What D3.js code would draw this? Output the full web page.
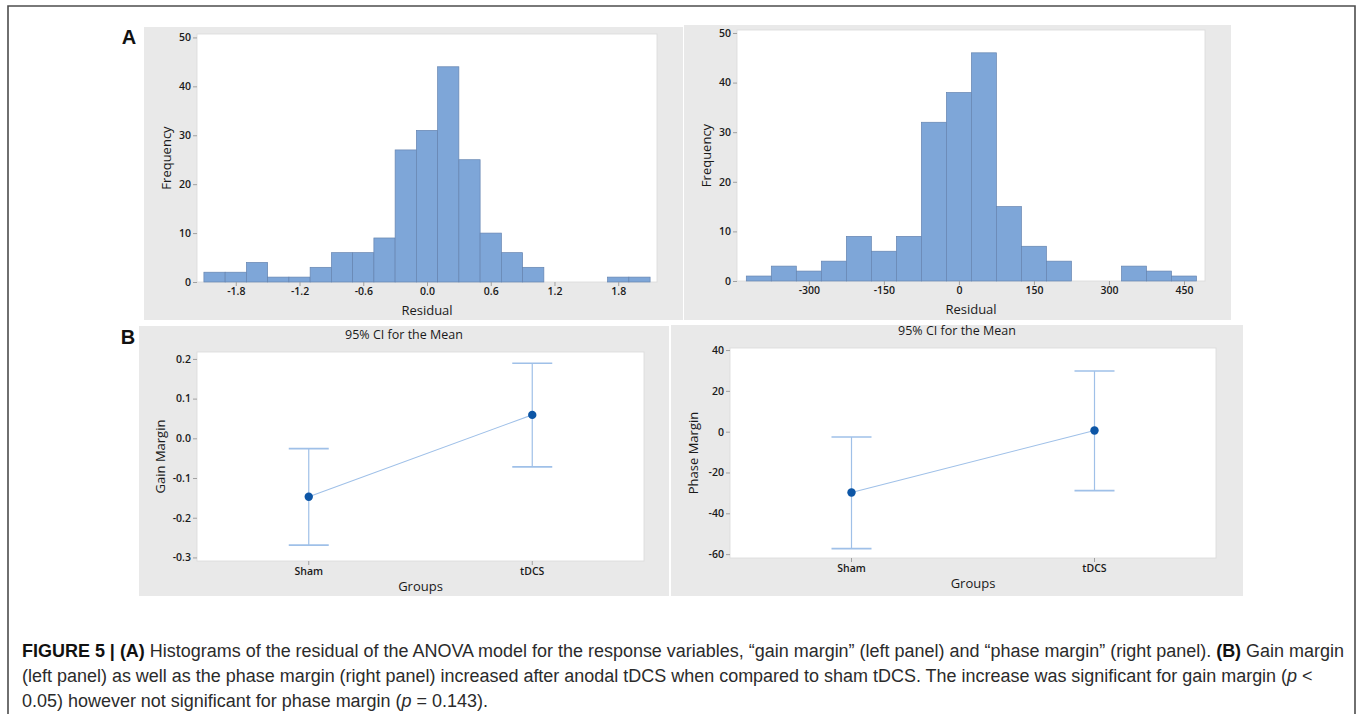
<!DOCTYPE html>
<html>
<head>
<meta charset="utf-8">
<script src="https://cdn.jsdelivr.net/npm/d3@7"></script>
<style>
  body { margin: 0; background: #fff; }
  svg { display: block; }
</style>
</head>
<body>
<div id="figure"></div>
<script>
// ---- values ----
const gainBinCenters = [-2.0, -1.8, -1.6, -1.4, -1.2, -1.0, -0.8, -0.6, -0.4, -0.2, 0.0, 0.2, 0.4, 0.6, 0.8, 1.0, 1.2, 1.4, 1.6, 1.8, 2.0];
const gainResidualCounts = [2, 2, 4, 1, 1, 3, 6, 6, 9, 27, 31, 44, 25, 10, 6, 3, 0, 0, 0, 1, 1];
const phaseBinCenters = [-400, -350, -300, -250, -200, -150, -100, -50, 0, 50, 100, 150, 200, 250, 300, 350, 400, 450];
const phaseResidualCounts = [1, 3, 2, 4, 9, 6, 9, 32, 38, 46, 15, 7, 4, 0, 0, 3, 2, 1];

const gainResidualTicks = [-1.8, -1.2, -0.6, 0, 0.6, 1.2, 1.8];
const phaseResidualTicks = [-300, -150, 0, 150, 300, 450];
const frequencyTicks = [0, 10, 20, 30, 40, 50];

const groups = ["Sham", "tDCS"];
const gainMean = [-0.147, 0.059];
const gainLower = [-0.269, -0.072];
const gainUpper = [-0.026, 0.189];
const phaseMean = [-29.8, 0.6];
const phaseLower = [-57.3, -28.9];
const phaseUpper = [-2.6, 29.7];
const gainMarginTicks = [-0.3, -0.2, -0.1, 0, 0.1, 0.2];
const phaseMarginTicks = [-60, -40, -20, 0, 20, 40];

// ---- styling ----
const chartFont = "'Open Sans', 'Noto Sans', sans-serif";
const captionFont = "'Liberation Sans', Arial, sans-serif";
const panelColor = "#e9e9e9";
const barFill = "#7ea6d8";
const barStroke = "#6584b0";
const ciColor = "#9fc0e8";
const dotColor = "#0d56a6";
const tickColor = "#a0a0a0";

const svg = d3.select("#figure")
  .append("svg")
  .attr("width", 1362)
  .attr("height", 714);

svg.append("rect").attr("width", 1362).attr("height", 714).attr("fill", "#fff");

// outer frame (open at the bottom)
svg.append("path")
  .attr("d", "M8,714 L8,6 L1355,6 L1355,714")
  .attr("fill", "none")
  .attr("stroke", "#4d4d4d")
  .attr("stroke-width", 1.6);

function styleAxis(g) {
  g.select(".domain").remove();
  g.selectAll(".tick line").attr("stroke", tickColor);
  g.selectAll(".tick text")
    .attr("font-family", chartFont)
    .attr("font-size", 10.5)
    .attr("font-weight", 600)
    .attr("fill", "#1a1a1a");
}

function drawPanel(cfg) {
  const p = cfg.panel;
  svg.append("rect")
    .attr("x", p.x).attr("y", p.y)
    .attr("width", p.w).attr("height", p.h)
    .attr("fill", panelColor);
  const a = cfg.plot;
  svg.append("rect")
    .attr("x", a.x).attr("y", a.y)
    .attr("width", a.w).attr("height", a.h)
    .attr("fill", "#fff")
    .attr("stroke", "#dadada")
    .attr("stroke-width", 0.8);
}

function axisTitle(text, x, y, rotate) {
  svg.append("text")
    .attr("transform", `translate(${x},${y})` + (rotate ? " rotate(-90)" : ""))
    .attr("text-anchor", "middle")
    .attr("dy", "0.35em")
    .attr("font-family", chartFont)
    .attr("font-size", 13)
    .attr("fill", "#1a1a1a")
    .text(text);
}

function drawHistogram(cfg) {
  drawPanel(cfg);
  const a = cfg.plot;

  const x = d3.scaleLinear().domain(cfg.xDomain).range([a.x, a.x + a.w]);
  const y = d3.scaleLinear().domain(cfg.yDomain).range([a.y + a.h, a.y]);

  const bins = cfg.centers
    .map((c, i) => ({ center: c, count: cfg.counts[i] }))
    .filter((d) => d.count > 0);

  svg.append("g")
    .selectAll("rect")
    .data(bins)
    .join("rect")
    .attr("x", (d) => x(d.center - cfg.binWidth / 2))
    .attr("y", (d) => y(d.count))
    .attr("width", (d) => x(d.center + cfg.binWidth / 2) - x(d.center - cfg.binWidth / 2))
    .attr("height", (d) => y(0) - y(d.count))
    .attr("fill", barFill)
    .attr("stroke", barStroke)
    .attr("stroke-width", 0.7);

  svg.append("g")
    .attr("transform", `translate(0,${a.y + a.h})`)
    .call(d3.axisBottom(x).tickValues(cfg.xTicks).tickFormat(cfg.xFormat).tickSize(4).tickPadding(2))
    .call(styleAxis);

  svg.append("g")
    .attr("transform", `translate(${a.x},0)`)
    .call(d3.axisLeft(y).tickValues(frequencyTicks).tickSize(4).tickPadding(2))
    .call(styleAxis);

  axisTitle("Residual", a.x + a.w / 2, a.y + a.h + 28, false);
  axisTitle("Frequency", a.x - 31, a.y + a.h / 2, true);
}

function drawIntervalPlot(cfg) {
  drawPanel(cfg);
  const a = cfg.plot;
  const p = cfg.panel;

  const x = d3.scaleBand().domain(groups).range([a.x, a.x + a.w]);
  const cx = (g) => x(g) + x.bandwidth() / 2;
  const y = d3.scaleLinear().domain(cfg.yDomain).range([a.y + a.h, a.y]);

  const rows = groups.map((g, i) => ({
    group: g, mean: cfg.mean[i], lower: cfg.lower[i], upper: cfg.upper[i]
  }));

  // mean connect line
  svg.append("path")
    .datum(rows)
    .attr("d", d3.line().x((d) => cx(d.group)).y((d) => y(d.mean)))
    .attr("fill", "none")
    .attr("stroke", ciColor)
    .attr("stroke-width", 1.1);

  const bars = svg.append("g")
    .attr("stroke", ciColor)
    .attr("stroke-width", 1.2);

  bars.selectAll("line.whisker")
    .data(rows)
    .join("line")
    .attr("class", "whisker")
    .attr("x1", (d) => cx(d.group)).attr("x2", (d) => cx(d.group))
    .attr("y1", (d) => y(d.lower)).attr("y2", (d) => y(d.upper));

  ["lower", "upper"].forEach((k) => {
    bars.selectAll("line.cap-" + k)
      .data(rows)
      .join("line")
      .attr("class", "cap-" + k)
      .attr("x1", (d) => cx(d.group) - 20).attr("x2", (d) => cx(d.group) + 20)
      .attr("y1", (d) => y(d[k])).attr("y2", (d) => y(d[k]))
      .attr("stroke-width", 1.6);
  });

  svg.append("g")
    .selectAll("circle")
    .data(rows)
    .join("circle")
    .attr("cx", (d) => cx(d.group))
    .attr("cy", (d) => y(d.mean))
    .attr("r", 4.2)
    .attr("fill", dotColor);

  svg.append("g")
    .attr("transform", `translate(0,${a.y + a.h})`)
    .call(d3.axisBottom(x).tickSize(4).tickPadding(3))
    .call(styleAxis);

  svg.append("g")
    .attr("transform", `translate(${a.x},0)`)
    .call(d3.axisLeft(y).tickValues(cfg.yTicks).tickFormat(cfg.yFormat).tickSize(4).tickPadding(2))
    .call(styleAxis);

  // title centred on the panel
  svg.append("text")
    .attr("x", p.x + p.w / 2)
    .attr("y", a.y - 17)
    .attr("text-anchor", "middle")
    .attr("dy", "0.35em")
    .attr("font-family", chartFont)
    .attr("font-size", 12.5)
    .attr("fill", "#1a1a1a")
    .text("95% CI for the Mean");

  axisTitle("Groups", a.x + a.w / 2, a.y + a.h + 25, false);
  axisTitle(cfg.yLabel, a.x - 37, a.y + a.h / 2, true);
}

const oneDecimal = (d) => d.toFixed(1);

drawHistogram({
  panel: { x: 144, y: 27, w: 539, h: 293 },
  plot: { x: 197, y: 34, w: 460, h: 248 },
  centers: gainBinCenters,
  counts: gainResidualCounts,
  binWidth: 0.2,
  xDomain: [-2.165, 2.165],
  yDomain: [0, 50.7],
  xTicks: gainResidualTicks,
  xFormat: oneDecimal
});

drawHistogram({
  panel: { x: 684, y: 25, w: 547, h: 295 },
  plot: { x: 737, y: 30, w: 468, h: 251 },
  centers: phaseBinCenters,
  counts: phaseResidualCounts,
  binWidth: 50,
  xDomain: [-443.6, 492],
  yDomain: [0, 50.6],
  xTicks: phaseResidualTicks,
  xFormat: (d) => String(d)
});

drawIntervalPlot({
  panel: { x: 139, y: 326, w: 530, h: 270 },
  plot: { x: 197, y: 352, w: 447, h: 209 },
  mean: gainMean, lower: gainLower, upper: gainUpper,
  yDomain: [-0.309, 0.2174],
  yTicks: gainMarginTicks,
  yFormat: oneDecimal,
  yLabel: "Gain Margin"
});

drawIntervalPlot({
  panel: { x: 671, y: 325, w: 572, h: 271 },
  plot: { x: 730, y: 348, w: 486, h: 210 },
  mean: phaseMean, lower: phaseLower, upper: phaseUpper,
  yDomain: [-61.9, 41.0],
  yTicks: phaseMarginTicks,
  yFormat: (d) => String(d),
  yLabel: "Phase Margin"
});

// panel letters
[["A", 129, 37], ["B", 128, 337]].forEach(([t, x, y]) => {
  svg.append("text")
    .attr("x", x).attr("y", y)
    .attr("dy", "0.35em")
    .attr("text-anchor", "middle")
    .attr("font-family", captionFont)
    .attr("font-weight", 700)
    .attr("font-size", 20)
    .attr("fill", "#111")
    .text(t);
});

// ---- caption ----
const captionLines = [
  [["b", "FIGURE 5 | (A)"], ["", " Histograms of the residual of the ANOVA model for the response variables, \u201cgain margin\u201d (left panel) and \u201cphase margin\u201d (right panel). "], ["b", "(B)"], ["", " Gain margin"]],
  [["", "(left panel) as well as the phase margin (right panel) increased after anodal tDCS when compared to sham tDCS. The increase was significant for gain margin ("], ["i", "p"], ["", " <"]],
  [["", "0.05) however not significant for phase margin ("], ["i", "p"], ["", " = 0.143)."]]
];
const captionBaselines = [657, 682, 707];

const captionNodes = captionLines.map((parts, li) => {
  const t = svg.append("text")
    .attr("x", 22)
    .attr("y", captionBaselines[li])
    .attr("font-family", captionFont)
    .attr("font-size", 15)
    .attr("fill", "#2b2b2b")
    .attr("xml:space", "preserve");
  parts.forEach(([kind, s]) => {
    t.append("tspan")
      .attr("font-weight", kind === "b" ? 700 : null)
      .attr("font-style", kind === "i" ? "italic" : null)
      .attr("fill", kind === "b" ? "#111" : null)
      .text(s);
  });
  return t;
});

// fit first line to the width it takes in the figure
const firstWidth = captionNodes[0].node().getComputedTextLength();
const captionSize = 15 * 1323 / firstWidth;
captionNodes.forEach((t) => t.attr("font-size", captionSize));
</script>
</body>
</html>
